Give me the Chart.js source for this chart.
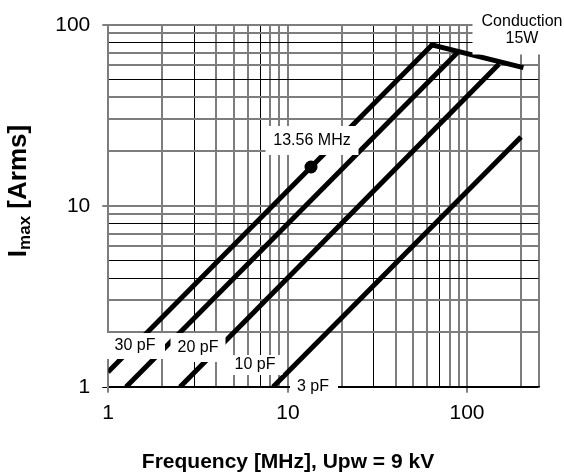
<!DOCTYPE html>
<html><head><meta charset="utf-8">
<script src="https://cdn.jsdelivr.net/npm/chart.js@4.4.0/dist/chart.umd.min.js"></script>
<style>html,body{margin:0;padding:0;background:#fff;}#wrap{width:564px;height:475px;}</style>
</head><body><div id="wrap"><canvas id="c" width="564" height="475"></canvas></div>
<script>
// ---- data ----
const xGridValues = [1,2,3,4,5,6,7,8,9,10,20,30,40,50,60,70,80,90,100,200,250];
const yGridValues = [1,2,3,4,5,6,7,8,9,10,20,30,40,50,60,70,80,90,100];
const xTickLabels = [1,10,100];
const yTickLabels = [1,10,100];
const xDarkGrid = [3,7,30,70];
const yDarkGrid = [1,4,5,8,50,80];

const freq30 = [1, 64];     const amp30 = [1.2, 77];
const freq20 = [1.25, 89];  const amp20 = [1, 71];
const freq10 = [2.5, 151];  const amp10 = [1, 60.5];
const freq3  = [8.3, 200];  const amp3  = [1, 24];
const freqCond = [64, 200]; const ampCond = [77, 58];
const freqMark = [13.56];   const ampMark = [16.3];

const FONT = "'Liberation Sans', Arial, Helvetica, sans-serif";
const pts = (xs, ys) => xs.map((x, i) => ({x, y: ys[i]}));
const lineDs = (label, xs, ys, cap) => ({
  label, data: pts(xs, ys), showLine: true, borderColor: '#000', backgroundColor: '#000',
  borderWidth: 5, pointRadius: 0, borderCapStyle: cap || 'butt', tension: 0
});

const labelBoxes = {
  id: 'labelBoxes',
  afterDatasetsDraw(chart) {
    const {ctx, scales: {x, y}} = chart;
    const items = [
      {t: ['30 pF'], fx: 1.40, fy: 1.68, box: [-34, -13, 30, 13]},
      {t: ['20 pF'], fx: 3.15, fy: 1.63, box: [-27.5, -15, 27.5, 14]},
      {t: ['10 pF'], fx: 6.56, fy: 1.31, box: [-27.5, -10, 27.5, 10]},
      {t: ['3 pF'], fx: 13.9, fy: 0.99, box: [-23, -11.5, 25, 12.5]},
      {t: ['13.56 MHz'], fx: 13.6, fy: 22.7, box: [-46.5, -15, 46.5, 14]},
      {t: ['Conduction', '15W'], fx: 203, fy: 93, box: [-49.5, -30, 45, 24.5]}
    ];
    ctx.save();
    items.forEach(it => {
      const cx = x.getPixelForValue(it.fx), cy = y.getPixelForValue(it.fy);
      ctx.fillStyle = '#fff';
      ctx.fillRect(cx + it.box[0], cy + it.box[1], it.box[2] - it.box[0], it.box[3] - it.box[1]);
      ctx.fillStyle = '#000';
      ctx.font = '16px ' + FONT;
      ctx.textAlign = 'center'; ctx.textBaseline = 'middle';
      const n = it.t.length;
      it.t.forEach((s, i) => ctx.fillText(s, cx, cy + (i - (n - 1) / 2) * 17));
    });
    ctx.restore();
  },
  afterDraw(chart) {
    const ctx = chart.ctx;
    ctx.save();
    ctx.fillStyle = '#000';
    ctx.font = 'bold 21px ' + FONT;
    ctx.textAlign = 'center'; ctx.textBaseline = 'middle';
    ctx.fillText('Frequency [MHz], Upw = 9 kV', 288, 462);
    // y title with subscript
    ctx.translate(26, 191);
    ctx.rotate(-Math.PI / 2);
    const f1 = 'bold 26px ' + FONT, f2 = 'bold 17px ' + FONT;
    ctx.font = f1; const wI = ctx.measureText('I').width; const wR = ctx.measureText(' [Arms]').width;
    ctx.font = f2; const wM = ctx.measureText('max').width;
    let sx = -(wI + wM + wR) / 2;
    ctx.textAlign = 'left'; ctx.textBaseline = 'alphabetic';
    ctx.font = f1; ctx.fillText('I', sx, 0); sx += wI;
    ctx.font = f2; ctx.fillText('max', sx, 4); sx += wM;
    ctx.font = f1; ctx.fillText(' [Arms]', sx, 0);
    ctx.restore();
  }
};

const gridColor = dark => c => dark.includes(c.tick.value) ? '#000' : '#7d7d7d';
const gridWidth = dark => c => dark.includes(c.tick.value) ? 1 : 2;

new Chart(document.getElementById('c'), {
  type: 'scatter',
  data: {datasets: [
    lineDs('30 pF', freq30, amp30),
    lineDs('20 pF', freq20, amp20),
    lineDs('10 pF', freq10, amp10),
    lineDs('3 pF', freq3, amp3),
    lineDs('Conduction 15W', freqCond, ampCond, 'square'),
    {label: '13.56 MHz', data: pts(freqMark, ampMark), showLine: false, pointRadius: 6.5,
     backgroundColor: '#000', borderColor: '#000', pointBorderWidth: 0}
  ]},
  options: {
    responsive: false, animation: false, devicePixelRatio: 1,
    layout: {padding: {top: 20.7, right: 25.5, left: 0, bottom: 0}},
    plugins: {legend: {display: false}, tooltip: {enabled: false}},
    scales: {
      x: {
        type: 'logarithmic', min: 1, max: 250, alignToPixels: true,
        afterBuildTicks: s => { s.ticks = xGridValues.map(v => ({value: v})); },
        afterFit: s => { s.height = 88.3; },
        ticks: {autoSkip: false, maxRotation: 0, minRotation: 0, padding: 8, color: '#000',
          font: {family: FONT, size: 21},
          callback: v => xTickLabels.includes(v) ? String(v) : ''},
        grid: {color: gridColor(xDarkGrid), lineWidth: gridWidth(xDarkGrid), tickLength: 6, tickWidth: 1,
          tickColor: c => xTickLabels.includes(c.tick.value) ? '#000' : 'rgba(0,0,0,0)'},
        border: {color: '#000', width: 1.5}
      },
      y: {
        type: 'logarithmic', min: 1, max: 100, alignToPixels: true,
        afterBuildTicks: s => { s.ticks = yGridValues.map(v => ({value: v})); },
        afterFit: s => { s.width = 108.3; },
        ticks: {autoSkip: false, padding: 12, color: '#000', font: {family: FONT, size: 21},
          callback: v => yTickLabels.includes(v) ? String(v) : ''},
        grid: {color: gridColor(yDarkGrid), lineWidth: gridWidth(yDarkGrid), tickLength: 6, tickWidth: 1,
          tickColor: c => yTickLabels.includes(c.tick.value) ? '#000' : 'rgba(0,0,0,0)'},
        border: {color: '#7d7d7d', width: 2}
      }
    }
  },
  plugins: [labelBoxes]
});
</script></body></html>
